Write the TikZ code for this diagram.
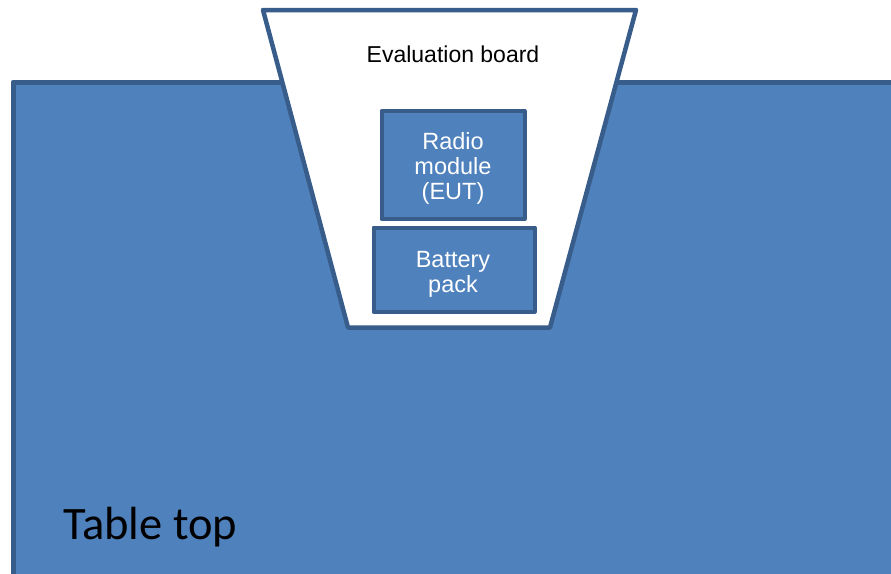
\documentclass[tikz,border=0pt]{standalone}
\usepackage{fontspec}
\setmainfont{Liberation Sans}
\newfontfamily\calibrifont{Carlito}
\definecolor{boxfill}{HTML}{4F81BD}
\definecolor{boxline}{HTML}{385D8A}
\tikzset{
  part/.style={draw=boxline, fill=boxfill, line width=4pt, line join=round},
  parttext/.style={text=white, font=\fontsize{23.5}{25}\selectfont, align=center},
}
\begin{document}
\begin{tikzpicture}[x=1pt, y=-1pt]
  \useasboundingbox (0,0) rectangle (891,573);
  \clip (0,0) rectangle (891,573);
  % table top, running off the right and bottom edges
  \draw[part, line width=5pt] (13,82) rectangle (920,600);
  \node[anchor=base west, font=\calibrifont\fontsize{46.5}{50}\selectfont, inner sep=0pt] (table) at (63,539) {Table top};
  % evaluation board
  \draw[draw=boxline, fill=white, line width=4.5pt, line join=round]
    (263,10) -- (636,10) -- (550,327.5) -- (348,327.5) -- cycle;
  \node[font=\fontsize{23}{25}\selectfont, inner sep=0pt] (board) at (453,54) {Evaluation board};
  % parts on the board
  \draw[part] (381.5,111) rectangle (524.5,219);
  \node[parttext] (radio) at (453,168) {Radio\\module\\(EUT)};
  \draw[part] (373.5,227.5) rectangle (534.5,311.5);
  \node[parttext] (battery) at (453,274) {Battery\\pack};
\end{tikzpicture}
\end{document}
